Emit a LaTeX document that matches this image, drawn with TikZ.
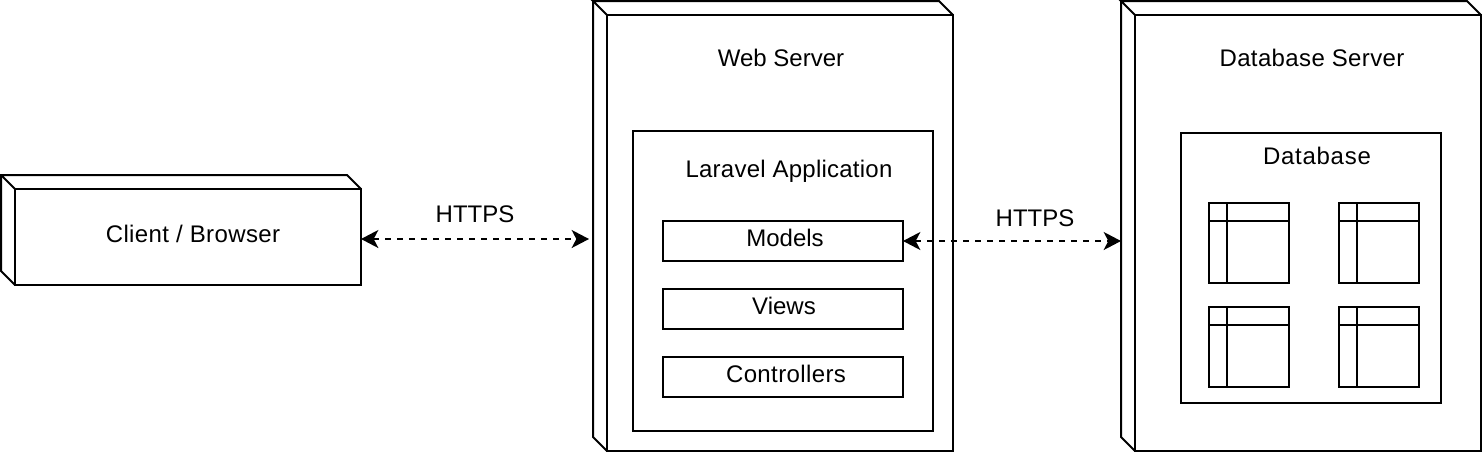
\documentclass[tikz,border=0pt]{standalone}
\usepackage{fontspec}
\setmainfont{Liberation Sans}
\usetikzlibrary{arrows.meta}
\tikzset{
  every node/.style={font=\fontsize{18pt}{21pt}\selectfont},
  line/.style={draw=black,line width=1.5pt,line join=miter},
  frontbox/.style={line,rectangle,inner sep=0pt,outer sep=0pt,anchor=north west},
  lbl/.style={inner sep=0pt,anchor=center},
  link/.style={line,dashed,dash pattern=on 4.5pt off 4.5pt,{Stealth[length=13pt,width=13.5pt,inset=3.5pt]}-{Stealth[length=13pt,width=13.5pt,inset=3.5pt]}},
}
\newcommand{\cube}[5]{% name, x, y, w, h
  \node[frontbox,minimum width=#4*0.75pt,minimum height=#5*0.75pt] (#1) at (#2,#3) {};
  \coordinate (#1tl) at (#2-14,#3-14);
  \coordinate (#1tr) at (#2+#4-14,#3-14);
  \coordinate (#1bl) at (#2-14,#3+#5-14);
  \draw[line] (#1.north west) -- (#1tl) -- (#1tr) -- (#1.north east);
  \draw[line] (#1tl) -- (#1bl) -- (#1.south west);
}
\newcommand{\dbtable}[3]{% name, x, y
  \node[frontbox,minimum width=60pt,minimum height=60pt] (#1) at (#2,#3) {};
  \coordinate (#1a) at (#2,#3+18);
  \coordinate (#1b) at (#2+80,#3+18);
  \coordinate (#1c) at (#2+18,#3);
  \coordinate (#1d) at (#2+18,#3+80);
  \draw[line] (#1a) -- (#1b);
  \draw[line] (#1c) -- (#1d);
}
\newcommand{\spaced}[2]{{\addfontfeature{LetterSpace=#1}#2}}
\begin{document}
\begin{tikzpicture}[x=0.75pt,y=-0.75pt]
\useasboundingbox (0,0) rectangle (1484,454);
\cube{client}{15}{189}{346}{96}
\cube{web}{607}{15}{346}{436}
\cube{dbs}{1135}{15}{346}{436}
\node[frontbox,minimum width=225pt,minimum height=225pt] (laravel) at (633,131) {};
\node[frontbox,minimum width=180pt,minimum height=30pt] (models) at (663,221) {};
\node[frontbox,minimum width=180pt,minimum height=30pt] (views) at (663,289) {};
\node[frontbox,minimum width=180pt,minimum height=30pt] (controllers) at (663,357) {};
\node[frontbox,minimum width=195pt,minimum height=202.5pt] (database) at (1181,133) {};
\dbtable{t1}{1209}{203}
\dbtable{t2}{1339}{203}
\dbtable{t3}{1209}{307}
\dbtable{t4}{1339}{307}
\node[lbl] (clientlbl) at (193,234) {\spaced{1.6}{Client / Browser}};
\node[lbl] (weblbl) at (781,58) {Web Server};
\node[lbl] (dbslbl) at (1312,58) {\spaced{1.5}{Database Server}};
\node[lbl] (larlbl) at (789,171.5) {\spaced{1}{Laravel Application}};
\node[lbl] (modlbl) at (785,238) {Models};
\node[lbl] (viewlbl) at (784,306) {Views};
\node[lbl] (ctrllbl) at (786,374) {\spaced{1.6}{Controllers}};
\node[lbl] (dblbl) at (1317,156) {\spaced{3}{Database}};
\node[lbl] (https1) at (475,214) {HTTPS};
\node[lbl] (https2) at (1035,218) {HTTPS};
\coordinate (webin) at (589,239);
\coordinate (clientout) at (361,239);
\coordinate (dbsin) at (1121,241);
\coordinate (modelsout) at (903,241);
\draw[link] (clientout) -- (webin);
\draw[link] (modelsout) -- (dbsin);
\end{tikzpicture}
\end{document}
